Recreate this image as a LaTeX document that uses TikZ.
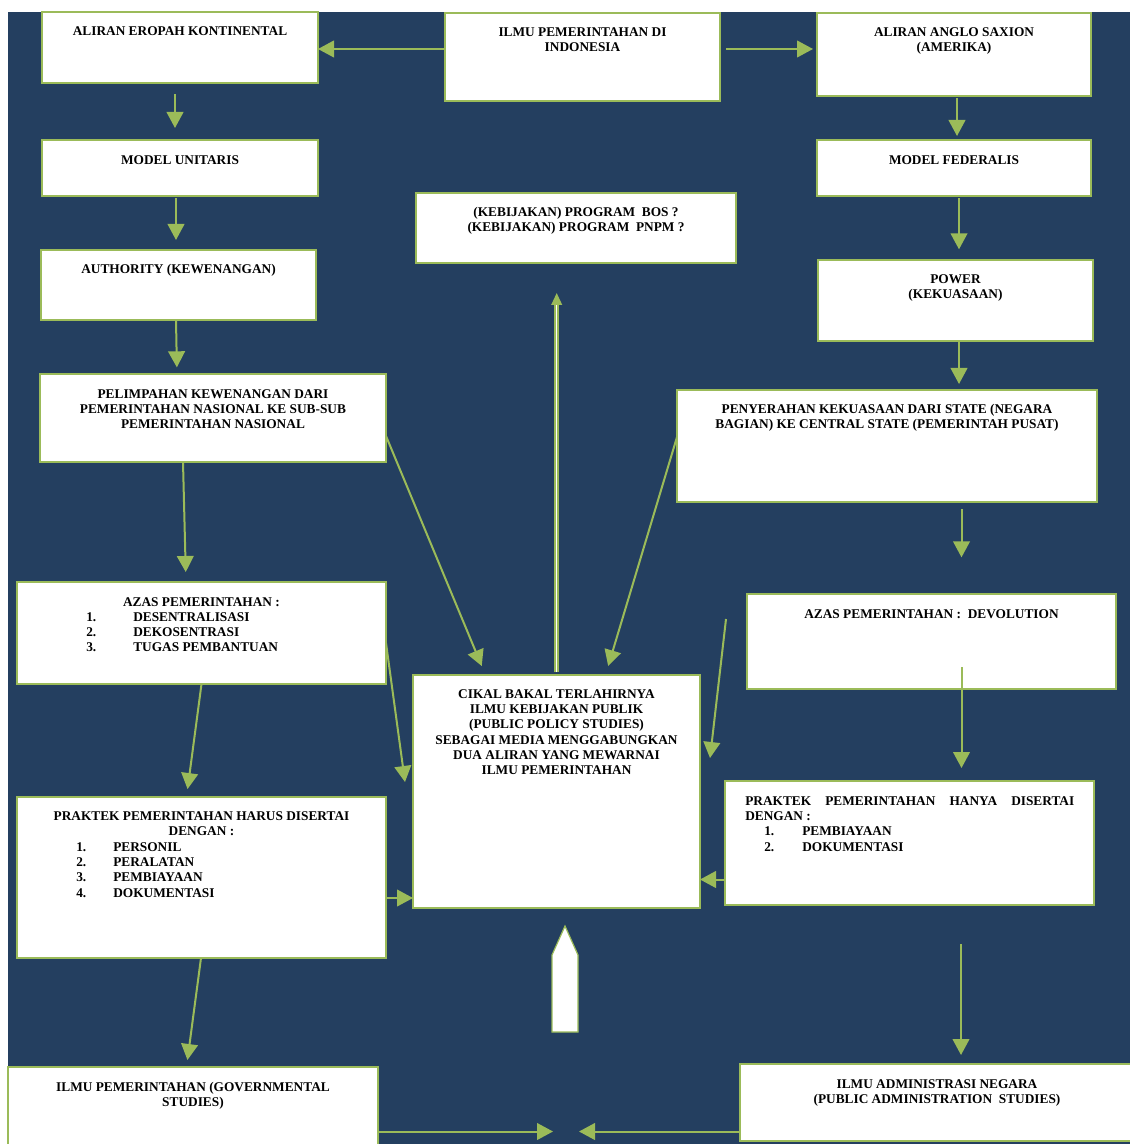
\documentclass[tikz,border=0pt]{standalone}
\usepackage{fontspec}
\setmainfont{Liberation Serif}
\usetikzlibrary{fit, arrows.meta}

\definecolor{navy}{RGB}{36,63,96}
\definecolor{olive}{RGB}{155,187,89}

\tikzset{
  kotak/.style={draw=olive, fill=white, line width=2.1pt, inner sep=0pt, outer sep=0pt},
  teks/.style={inner sep=0pt, align=center, font=\fontsize{10pt}{11.5pt}\selectfont\bfseries},
  panah/.style={draw=olive, line width=1.5pt, -{Triangle[length=12pt,width=12.5pt]}},
  dobel/.style={draw=olive, double=white, double distance=1.1pt, line width=1.3pt, -{Triangle[length=9pt,width=8pt]}},
}

\begin{document}
\begin{tikzpicture}[x=0.75pt,y=0.75pt,yscale=-1,xscale=1]
\useasboundingbox (0,0) rectangle (1129,1144);
%Shape: Rectangle [background]
\fill[navy] (8,12) rectangle (1140,1150);

%Shape: Rectangle
\node[kotak, fit={(42,12) (318,83)}] (eropa) {};
\node[kotak, fit={(445,13) (720,101)}] (ilmu) {};
\node[kotak, fit={(817,13) (1091,96)}] (anglo) {};
\node[kotak, fit={(42,140) (318,196)}] (unitaris) {};
\node[kotak, fit={(817,140) (1091,196)}] (federalis) {};
\node[kotak, fit={(416,193) (736,263)}] (program) {};
\node[kotak, fit={(41,250) (316,320)}] (authority) {};
\node[kotak, fit={(818,260) (1093,341)}] (power) {};
\node[kotak, fit={(40,374) (386,462)}] (pelimpahan) {};
\node[kotak, fit={(677,390) (1097,502)}] (penyerahan) {};
\node[kotak, fit={(17,582) (386,684)}] (azasL) {};
\node[kotak, fit={(747,594) (1116,689)}] (azasR) {};
\node[kotak, fit={(413,675) (700,908)}] (cikal) {};
\node[kotak, fit={(725,781) (1094,905)}] (praktekR) {};
\node[kotak, fit={(17,797) (386,958)}] (praktekL) {};
\node[kotak, fit={(8,1067) (378,1152)}] (govL) {};
\node[kotak, fit={(740,1064) (1134,1141)}] (admin) {};

% Text Node
\node[teks, anchor=north] (eropa-t) at (180,26) {ALIRAN EROPAH KONTINENTAL};
\node[teks, anchor=north] (ilmu-t) at (582.5,27) {ILMU PEMERINTAHAN DI\\INDONESIA};
\node[teks, anchor=north] (anglo-t) at (954,27) {ALIRAN ANGLO SAXION\\(AMERIKA)};
\node[teks, anchor=north] (unitaris-t) at (180,155) {MODEL UNITARIS};
\node[teks, anchor=north] (federalis-t) at (954,155) {MODEL FEDERALIS};
\node[teks, anchor=north] (program-t) at (576,207) {(KEBIJAKAN) PROGRAM\ \ BOS ?\\(KEBIJAKAN) PROGRAM\ \ PNPM ?};
\node[teks, anchor=north] (authority-t) at (178.5,264) {AUTHORITY (KEWENANGAN)};
\node[teks, anchor=north] (power-t) at (955.5,274) {POWER\\(KEKUASAAN)};
\node[teks, anchor=north] (pelimpahan-t) at (213,389) {PELIMPAHAN KEWENANGAN DARI\\PEMERINTAHAN NASIONAL KE SUB-SUB\\PEMERINTAHAN NASIONAL};
\node[teks, anchor=north] (penyerahan-t) at (887,404) {PENYERAHAN KEKUASAAN DARI STATE (NEGARA\\BAGIAN) KE CENTRAL STATE (PEMERINTAH PUSAT)};
% Text Node
\node[teks, anchor=north] (azasL-t) at (201.5,597) {AZAS PEMERINTAHAN :};
\node[teks, anchor=north west, align=left] (azasL-l) at (86,612) {\makebox[35.25pt][l]{1.}DESENTRALISASI\\\makebox[35.25pt][l]{2.}DEKOSENTRASI\\\makebox[35.25pt][l]{3.}TUGAS PEMBANTUAN};
\node[teks, anchor=north] (azasR-t) at (931.5,609) {AZAS PEMERINTAHAN :\ \ DEVOLUTION};
\node[teks, anchor=north] (cikal-t) at (556.5,689) {CIKAL BAKAL TERLAHIRNYA\\ILMU KEBIJAKAN PUBLIK\\(PUBLIC POLICY STUDIES)\\SEBAGAI MEDIA MENGGABUNGKAN\\DUA ALIRAN YANG MEWARNAI\\ILMU PEMERINTAHAN};
\node[teks, anchor=north west, align=left] (praktekR-t) at (745,796) {\makebox[246.75pt][s]{PRAKTEK PEMERINTAHAN HANYA DISERTAI}\\DENGAN :\\\hspace*{14.25pt}\makebox[28.5pt][l]{1.}PEMBIAYAAN\\\hspace*{14.25pt}\makebox[28.5pt][l]{2.}DOKUMENTASI};
\node[teks, anchor=north] (praktekL-t) at (201.5,811) {PRAKTEK PEMERINTAHAN HARUS DISERTAI\\DENGAN :};
\node[teks, anchor=north west, align=left] (praktekL-l) at (76,842) {\makebox[27.75pt][l]{1.}PERSONIL\\\makebox[27.75pt][l]{2.}PERALATAN\\\makebox[27.75pt][l]{3.}PEMBIAYAAN\\\makebox[27.75pt][l]{4.}DOKUMENTASI};
\node[teks, anchor=north] (govL-t) at (193,1082) {ILMU PEMERINTAHAN (GOVERNMENTAL\\STUDIES)};
\node[teks, anchor=north] (admin-t) at (937,1079) {ILMU ADMINISTRASI NEGARA\\(PUBLIC ADMINISTRATION\ \ STUDIES)};

% free ends
\coordinate (lepas1) at (726,619);
\coordinate (ujung1) at (710,758);
\coordinate (ujung2) at (405,782);
\coordinate (lepas2) at (961,944);
\coordinate (temu) at (566,1131.5);

%Straight Lines
\draw[panah] (ilmu.west |- 0,49) -- (eropa.east |- 0,49);
\draw[panah, shorten <=4.5pt, shorten >=3pt] (ilmu.east |- 0,49) -- (anglo.west |- 0,49);
\draw[panah, shorten <=8.25pt, shorten >=9pt] (eropa.south -| 175,0) -- (unitaris.north -| 175,0);
\draw[panah, shorten <=1.5pt, shorten >=3pt] (anglo.south -| 957,0) -- (federalis.north -| 957,0);
\draw[panah, shorten <=1.5pt, shorten >=7.5pt] (unitaris.south -| 176,0) -- (authority.north -| 176,0);
\draw[panah, shorten <=1.5pt, shorten >=8pt] (federalis.south -| 959,0) -- (power.north -| 959,0);
\draw[panah, shorten >=5pt] (authority.south -| 176,0) -- (pelimpahan.north -| 177,0);
\draw[panah, shorten >=4.5pt] (power.south -| 959,0) -- (penyerahan.north -| 959,0);
\draw[panah, shorten >=7.5pt] (pelimpahan.south -| 183,0) -- (azasL.north -| 186,0);
\draw[panah, shorten <=5.5pt, shorten >=27.5pt] (penyerahan.south -| 961.5,0) -- (azasR.north -| 961.5,0);
\draw[panah, shorten >=7.3pt] (pelimpahan.east |- 0,436) -- (cikal.north -| 485.5,0);
\draw[panah, shorten >=7pt] (penyerahan.west |- 0,437) -- (cikal.north -| 605.5,0);
\draw[panah] (azasL.east |- 0,643) -- (ujung2);
\draw[panah] (lepas1) -- (ujung1);
\draw[panah, shorten >=6pt] (azasL.south -| 201.5,0) -- (praktekL.north -| 186.5,0);
\draw[panah, shorten <=-16.5pt, shorten >=9.75pt] (azasR.south -| 961.5,0) -- (praktekR.north -| 961.5,0);
\draw[panah] (praktekL.east |- 0,898) -- (cikal.west |- 0,898);
\draw[panah] (praktekR.west |- 0,879.5) -- (cikal.east |- 0,879.5);
\draw[dobel, shorten <=2pt, shorten >=22.5pt] (cikal.north -| 556.7,0) -- (program.south -| 556.7,0);
\draw[panah, shorten >=5.3pt] (praktekL.south -| 201,0) -- (govL.north -| 186.5,0);
\draw[panah, shorten >=6.75pt] (lepas2) -- (admin.north -| 961,0);
\draw[panah, shorten >=9.75pt] (govL.east |- temu) -- (temu);
\draw[panah, shorten >=9.75pt] (admin.west |- temu) -- (temu);

%Shape: Block Arrow
\draw[olive, fill=white, line width=0.9pt] (552,1032) -- (552,955) -- (565,926) -- (578,955) -- (578,1032) -- cycle;

\end{tikzpicture}
\end{document}
